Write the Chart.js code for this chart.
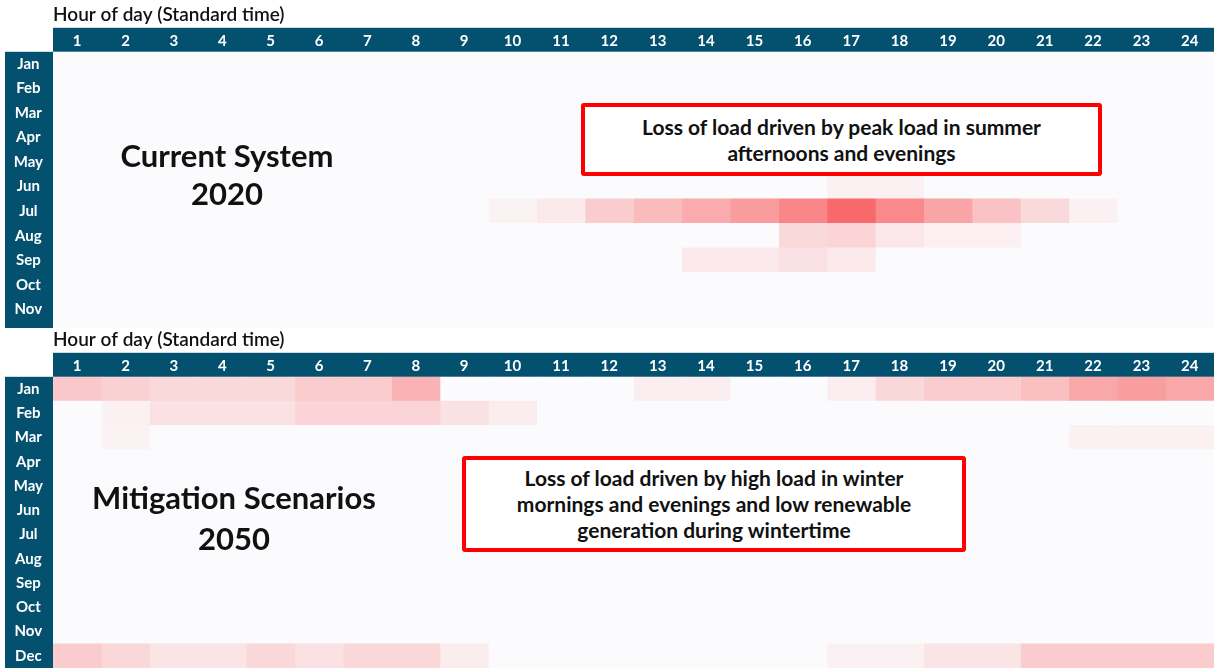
<!DOCTYPE html>
<html>
<head>
<meta charset="utf-8">
<script src="https://cdn.jsdelivr.net/npm/chart.js@4.4.1/dist/chart.umd.min.js"></script>
<style>
  html, body { margin: 0; padding: 0; background: #ffffff; }
  #wrap { position: relative; width: 1214px; height: 668px; overflow: hidden; background: #ffffff; font-family: Lato, "Open Sans", sans-serif; }
  .panel { position: absolute; left: 0; width: 1214px; overflow: hidden; }
  .panel canvas { display: block; }
  #topPanel { top: 0; height: 328px; }
  #botPanel { top: 328px; height: 340px; }
  .big { position: absolute; text-align: center; font-weight: 700; color: #111; white-space: nowrap; }
  .note { position: absolute; box-sizing: border-box; border: 4px solid #ff0000; border-radius: 3px; background: #ffffff;
          text-align: center; font-weight: 700; color: #111; display: flex; align-items: center; justify-content: center; white-space: nowrap; }
</style>
</head>
<body>
<div id="wrap">
  <div class="panel" id="topPanel"><canvas id="c1" width="1214" height="346"></canvas></div>
  <div class="panel" id="botPanel"><canvas id="c2" width="1214" height="340"></canvas></div>

  <div class="big" style="left:77px; top:136px; width:300px; font-size:31px; line-height:38px;">Current System<br>2020</div>
  <div class="big" style="left:64px; top:477px; width:340px; font-size:31px; line-height:41px;">Mitigation Scenarios<br>2050</div>

  <div class="note" style="left:581px; top:103px; width:521px; height:73px; font-size:21px; line-height:26px;">
    <div>Loss of load driven by peak load in summer<br>afternoons and evenings</div></div>
  <div class="note" style="left:462px; top:456px; width:504px; height:96px; font-size:21px; line-height:26px;">
    <div>Loss of load driven by high load in winter<br>mornings and evenings and low renewable<br>generation during wintertime</div></div>
</div>

<script>
// ---------- Data ----------
const months = ['Jan','Feb','Mar','Apr','May','Jun','Jul','Aug','Sep','Oct','Nov','Dec'];
const hours = ['1','2','3','4','5','6','7','8','9','10','11','12','13','14','15','16','17','18','19','20','21','22','23','24'];
const axisTitle = 'Hour of day (Standard time)';

// Relative loss-of-load intensity (0 = none, 1 = highest), hours 1..24
// Current System 2020
const cur_Jan = [0,0,0,0,0,0,0,0,0,0,0,0,0,0,0,0,0,0,0,0,0,0,0,0];
const cur_Feb = [0,0,0,0,0,0,0,0,0,0,0,0,0,0,0,0,0,0,0,0,0,0,0,0];
const cur_Mar = [0,0,0,0,0,0,0,0,0,0,0,0,0,0,0,0,0,0,0,0,0,0,0,0];
const cur_Apr = [0,0,0,0,0,0,0,0,0,0,0,0,0,0,0,0,0,0,0,0,0,0,0,0];
const cur_May = [0,0,0,0,0,0,0,0,0,0,0,0,0,0,0,0,0,0,0,0,0,0,0,0];
const cur_Jun = [0,0,0,0,0,0,0,0,0,0,0,0,0,0,0,0,0.07,0.07,0,0,0,0,0,0];
const cur_Jul = [0,0,0,0,0,0,0,0,0,0.06,0.12,0.32,0.44,0.55,0.65,0.80,1.00,0.78,0.59,0.39,0.23,0.07,0,0];
const cur_Aug = [0,0,0,0,0,0,0,0,0,0,0,0,0,0,0,0.23,0.27,0.14,0.08,0.08,0,0,0,0];
const cur_Sep = [0,0,0,0,0,0,0,0,0,0,0,0,0,0.12,0.12,0.18,0.12,0,0,0,0,0,0,0];
const cur_Oct = [0,0,0,0,0,0,0,0,0,0,0,0,0,0,0,0,0,0,0,0,0,0,0,0];
const cur_Nov = [0,0,0,0,0,0,0,0,0,0,0,0,0,0,0,0,0,0,0,0,0,0,0,0];
const cur_Dec = [0,0,0,0,0,0,0,0,0,0,0,0,0,0,0,0,0,0,0,0,0,0,0,0];

// Mitigation Scenarios 2050
const mit_Jan = [0.35,0.29,0.23,0.23,0.23,0.32,0.32,0.49,0,0,0,0,0.09,0.09,0,0,0.09,0.25,0.32,0.32,0.41,0.57,0.64,0.57];
const mit_Feb = [0,0.07,0.18,0.18,0.18,0.27,0.27,0.27,0.18,0.10,0,0,0,0,0,0,0,0,0,0,0,0,0,0];
const mit_Mar = [0,0.06,0,0,0,0,0,0,0,0,0,0,0,0,0,0,0,0,0,0,0,0.07,0.07,0.07];
const mit_Apr = [0,0,0,0,0,0,0,0,0,0,0,0,0,0,0,0,0,0,0,0,0,0,0,0];
const mit_May = [0,0,0,0,0,0,0,0,0,0,0,0,0,0,0,0,0,0,0,0,0,0,0,0];
const mit_Jun = [0,0,0,0,0,0,0,0,0,0,0,0,0,0,0,0,0,0,0,0,0,0,0,0];
const mit_Jul = [0,0,0,0,0,0,0,0,0,0,0,0,0,0,0,0,0,0,0,0,0,0,0,0];
const mit_Aug = [0,0,0,0,0,0,0,0,0,0,0,0,0,0,0,0,0,0,0,0,0,0,0,0];
const mit_Sep = [0,0,0,0,0,0,0,0,0,0,0,0,0,0,0,0,0,0,0,0,0,0,0,0];
const mit_Oct = [0,0,0,0,0,0,0,0,0,0,0,0,0,0,0,0,0,0,0,0,0,0,0,0];
const mit_Nov = [0,0,0,0,0,0,0,0,0,0,0,0,0,0,0,0,0,0,0,0,0,0,0,0];
const mit_Dec = [0.32,0.25,0.16,0.16,0.25,0.18,0.25,0.25,0.10,0,0,0,0,0,0,0,0.07,0.07,0.16,0.16,0.32,0.32,0.32,0.32];

const current2020 = [cur_Jan,cur_Feb,cur_Mar,cur_Apr,cur_May,cur_Jun,cur_Jul,cur_Aug,cur_Sep,cur_Oct,cur_Nov,cur_Dec];
const mitigation2050 = [mit_Jan,mit_Feb,mit_Mar,mit_Apr,mit_May,mit_Jun,mit_Jul,mit_Aug,mit_Sep,mit_Oct,mit_Nov,mit_Dec];

// ---------- Styling ----------
const NAVY = '#04506f';
const BASE = [251, 251, 253];
const RED  = [248, 105, 107];
function heatColor(v) {
  const c = BASE.map((b, i) => Math.round(b + (RED[i] - b) * v));
  return `rgb(${c[0]},${c[1]},${c[2]})`;
}
const FONT = 'Lato, "Open Sans", sans-serif';

const bgPlugin = {
  id: 'heatBg',
  beforeDraw(chart) {
    const { ctx, chartArea, scales } = chart;
    ctx.save();
    ctx.fillStyle = `rgb(${BASE.join(',')})`;
    ctx.fillRect(chartArea.left, chartArea.top, chartArea.right - chartArea.left, chartArea.bottom - chartArea.top);
    ctx.fillStyle = NAVY;
    const xt = scales.xTop;
    ctx.fillRect(chartArea.left, xt.top, chartArea.right - chartArea.left, xt.bottom - xt.top);
    const y = scales.y;
    ctx.fillRect(y.left, chartArea.top, y.right - y.left, chartArea.bottom - chartArea.top);
    ctx.restore();
  }
};

function makeChart(canvasId, rows, titlePad) {
  const datasets = hours.map((h, hi) => ({
    label: 'Hour ' + h,
    data: months.map(() => 1),
    backgroundColor: rows.map(r => heatColor(r[hi])),
    borderWidth: 0,
    barPercentage: 1,
    categoryPercentage: 1,
    xAxisID: 'x',
    yAxisID: 'y'
  }));
  return new Chart(document.getElementById(canvasId), {
    type: 'bar',
    data: { labels: months, datasets },
    options: {
      indexAxis: 'y',
      responsive: false,
      animation: false,
      devicePixelRatio: 1,
      layout: { autoPadding: false, padding: { left: 5, right: 0, top: 0, bottom: 0 } },
      plugins: {
        legend: { display: false },
        tooltip: { enabled: false },
        title: {
          display: true, text: axisTitle, align: 'start', fullSize: false,
          color: '#111', font: { family: FONT, size: 19, weight: '600' },
          padding: titlePad
        }
      },
      scales: {
        x: { type: 'linear', display: false, stacked: true, min: 0, max: 24 },
        xTop: {
          type: 'category', labels: hours, position: 'top', offset: true,
          grid: { display: false, drawTicks: false }, border: { display: false },
          ticks: { color: '#ffffff', font: { family: FONT, size: 15, weight: 'bold' }, padding: 2, maxRotation: 0, autoSkip: false },
          afterFit(s) { s.height = 24; s.paddingLeft = 0; s.paddingRight = 0; }
        },
        y: {
          type: 'category', stacked: true, offset: true,
          grid: { display: false, drawTicks: false }, border: { display: false },
          ticks: { color: '#ffffff', font: { family: FONT, size: 15, weight: 'bold' }, crossAlign: 'center', padding: 10, autoSkip: false },
          afterFit(s) { s.width = 48; s.paddingTop = 0; s.paddingBottom = 0; }
        }
      }
    },
    plugins: [bgPlugin]
  });
}

makeChart('c1', current2020, { top: 3, bottom: 2 });
makeChart('c2', mitigation2050, { top: 0, bottom: 2 });
</script>
</body>
</html>
